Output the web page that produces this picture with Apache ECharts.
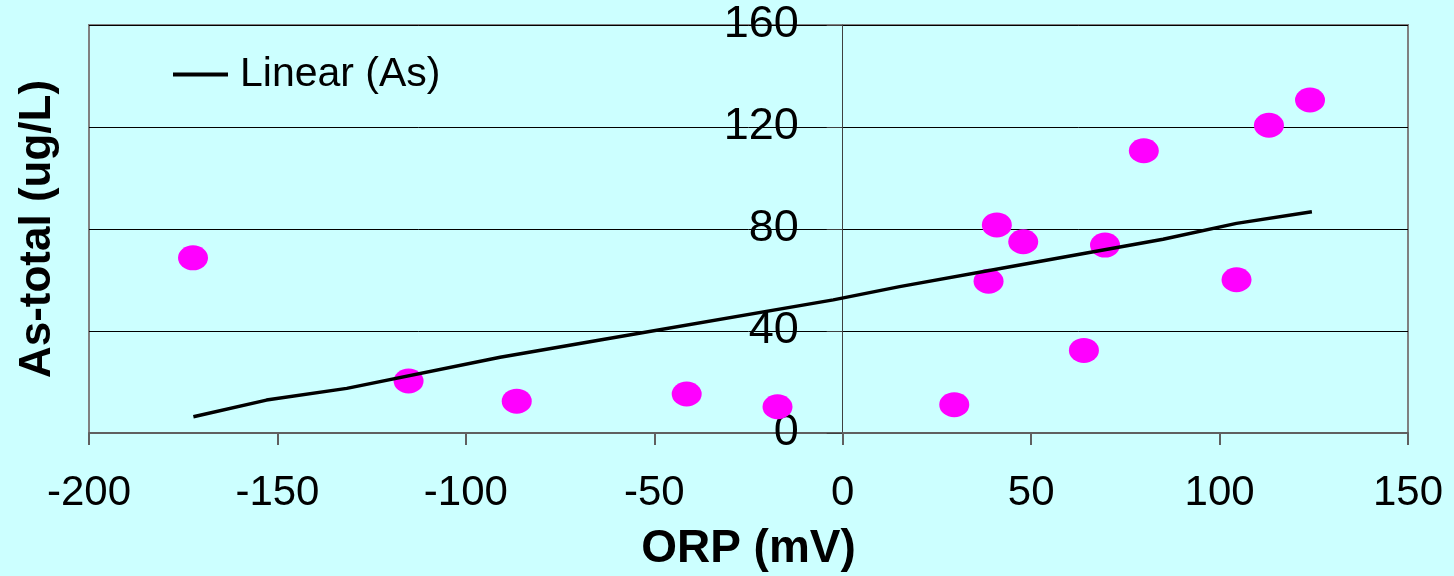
<!DOCTYPE html>
<html>
<head>
<meta charset="utf-8">
<script src="https://cdn.jsdelivr.net/npm/echarts@6/dist/echarts.min.js"></script>
<style>
  html, body {margin: 0; padding: 0; background: #CCFFFF;}
  #main {width: 1454px; height: 576px;}
</style>
</head>
<body>
<div id="main"></div>
<script>
// 测量点 ORP (mV) / As-total (ug/L)
const orp = [-172.4, -115.2, -86.5, -41.4, -17.3, 29.6, 38.7, 40.9, 47.9, 64.0, 69.6, 79.9, 104.5, 113.1, 124.0];
const asTotal = [68.7, 20.4, 12.5, 15.3, 10.3, 11.1, 59.5, 81.6, 75.0, 32.4, 73.7, 110.7, 60.1, 120.7, 130.6];

// 趋势线 Linear (As)
const trendX = [-172.3, -152.9, -131.6, -90.9, -64.4, -2.5, 15.1, 44.4, 85.0, 104.5, 124.5];
const trendY = [6.4, 12.9, 17.5, 29.7, 36.5, 52.2, 57.4, 65.2, 76.0, 82.2, 86.8];

// 刻度
const xTicks = [-200, -150, -100, -50, 0, 50, 100, 150];
const yTicks = [0, 40, 80, 120, 160];

const font = 'Liberation Sans, Arial, sans-serif';

// 绘图区: x 89..1408, y轴放在 x=0 处 (843px)
const gridLeft = 89, gridRight = 46;
const plotW = 1454 - gridLeft - gridRight;
const yAxisOffset = -plotW * (0 - xTicks[0]) / (xTicks[xTicks.length - 1] - xTicks[0]);

const myChart = echarts.init(document.getElementById('main'));

myChart.setOption({
    backgroundColor: '#CCFFFF',
    animation: false,
    grid: {
        left: gridLeft, right: gridRight, top: 25, bottom: 143,
        containLabel: false, outerBoundsMode: 'none',
        show: true, borderColor: '#808080', borderWidth: 2,
        backgroundColor: 'transparent'
    },
    legend: {
        data: ['Linear (As)'],
        left: 168, top: 49,
        icon: 'rect',
        itemWidth: 55, itemHeight: 4,
        textStyle: {fontFamily: font, fontSize: 41, color: '#000', padding: [0, 0, 0, 7]}
    },
    xAxis: {
        type: 'value',
        min: xTicks[0], max: xTicks[xTicks.length - 1], interval: 50,
        name: 'ORP (mV)', nameLocation: 'middle', nameGap: 93,
        nameTextStyle: {fontFamily: font, fontSize: 46, fontWeight: 'bold', color: '#000'},
        axisLine: {onZero: false, lineStyle: {color: '#606060', width: 2}},
        axisTick: {length: 12, lineStyle: {color: '#606060', width: 2}},
        axisLabel: {fontFamily: font, fontSize: 42, color: '#000', margin: 39},
        splitLine: {show: false}
    },
    yAxis: {
        type: 'value',
        min: yTicks[0], max: yTicks[yTicks.length - 1], interval: 40,
        offset: yAxisOffset,
        name: 'As-total (ug/L)', nameLocation: 'middle', nameGap: 783, nameRotate: 90,
        nameTextStyle: {fontFamily: font, fontSize: 44, fontWeight: 'bold', color: '#000'},
        axisLine: {onZero: false, lineStyle: {color: '#404040', width: 1}},
        axisTick: {length: 16, lineStyle: {color: '#404040', width: 1}},
        axisLabel: {fontFamily: font, fontSize: 45, color: '#000', margin: 44, padding: [8, 0, 0, 0]},
        splitLine: {lineStyle: {color: '#000', width: 1}}
    },
    series: [
        {
            name: 'As',
            type: 'scatter',
            symbol: 'path://M50,0A50,50 0 1,1 50,100A50,50 0 1,1 50,0Z',
            symbolSize: [30, 25],
            itemStyle: {color: '#FF00FF', opacity: 1},
            data: orp.map((x, i) => [x, asTotal[i]])
        },
        {
            name: 'Linear (As)',
            type: 'line',
            symbol: 'none',
            lineStyle: {color: '#000', width: 3.5},
            itemStyle: {color: '#000'},
            data: trendX.map((x, i) => [x, trendY[i]])
        }
    ]
});
</script>
</body>
</html>
